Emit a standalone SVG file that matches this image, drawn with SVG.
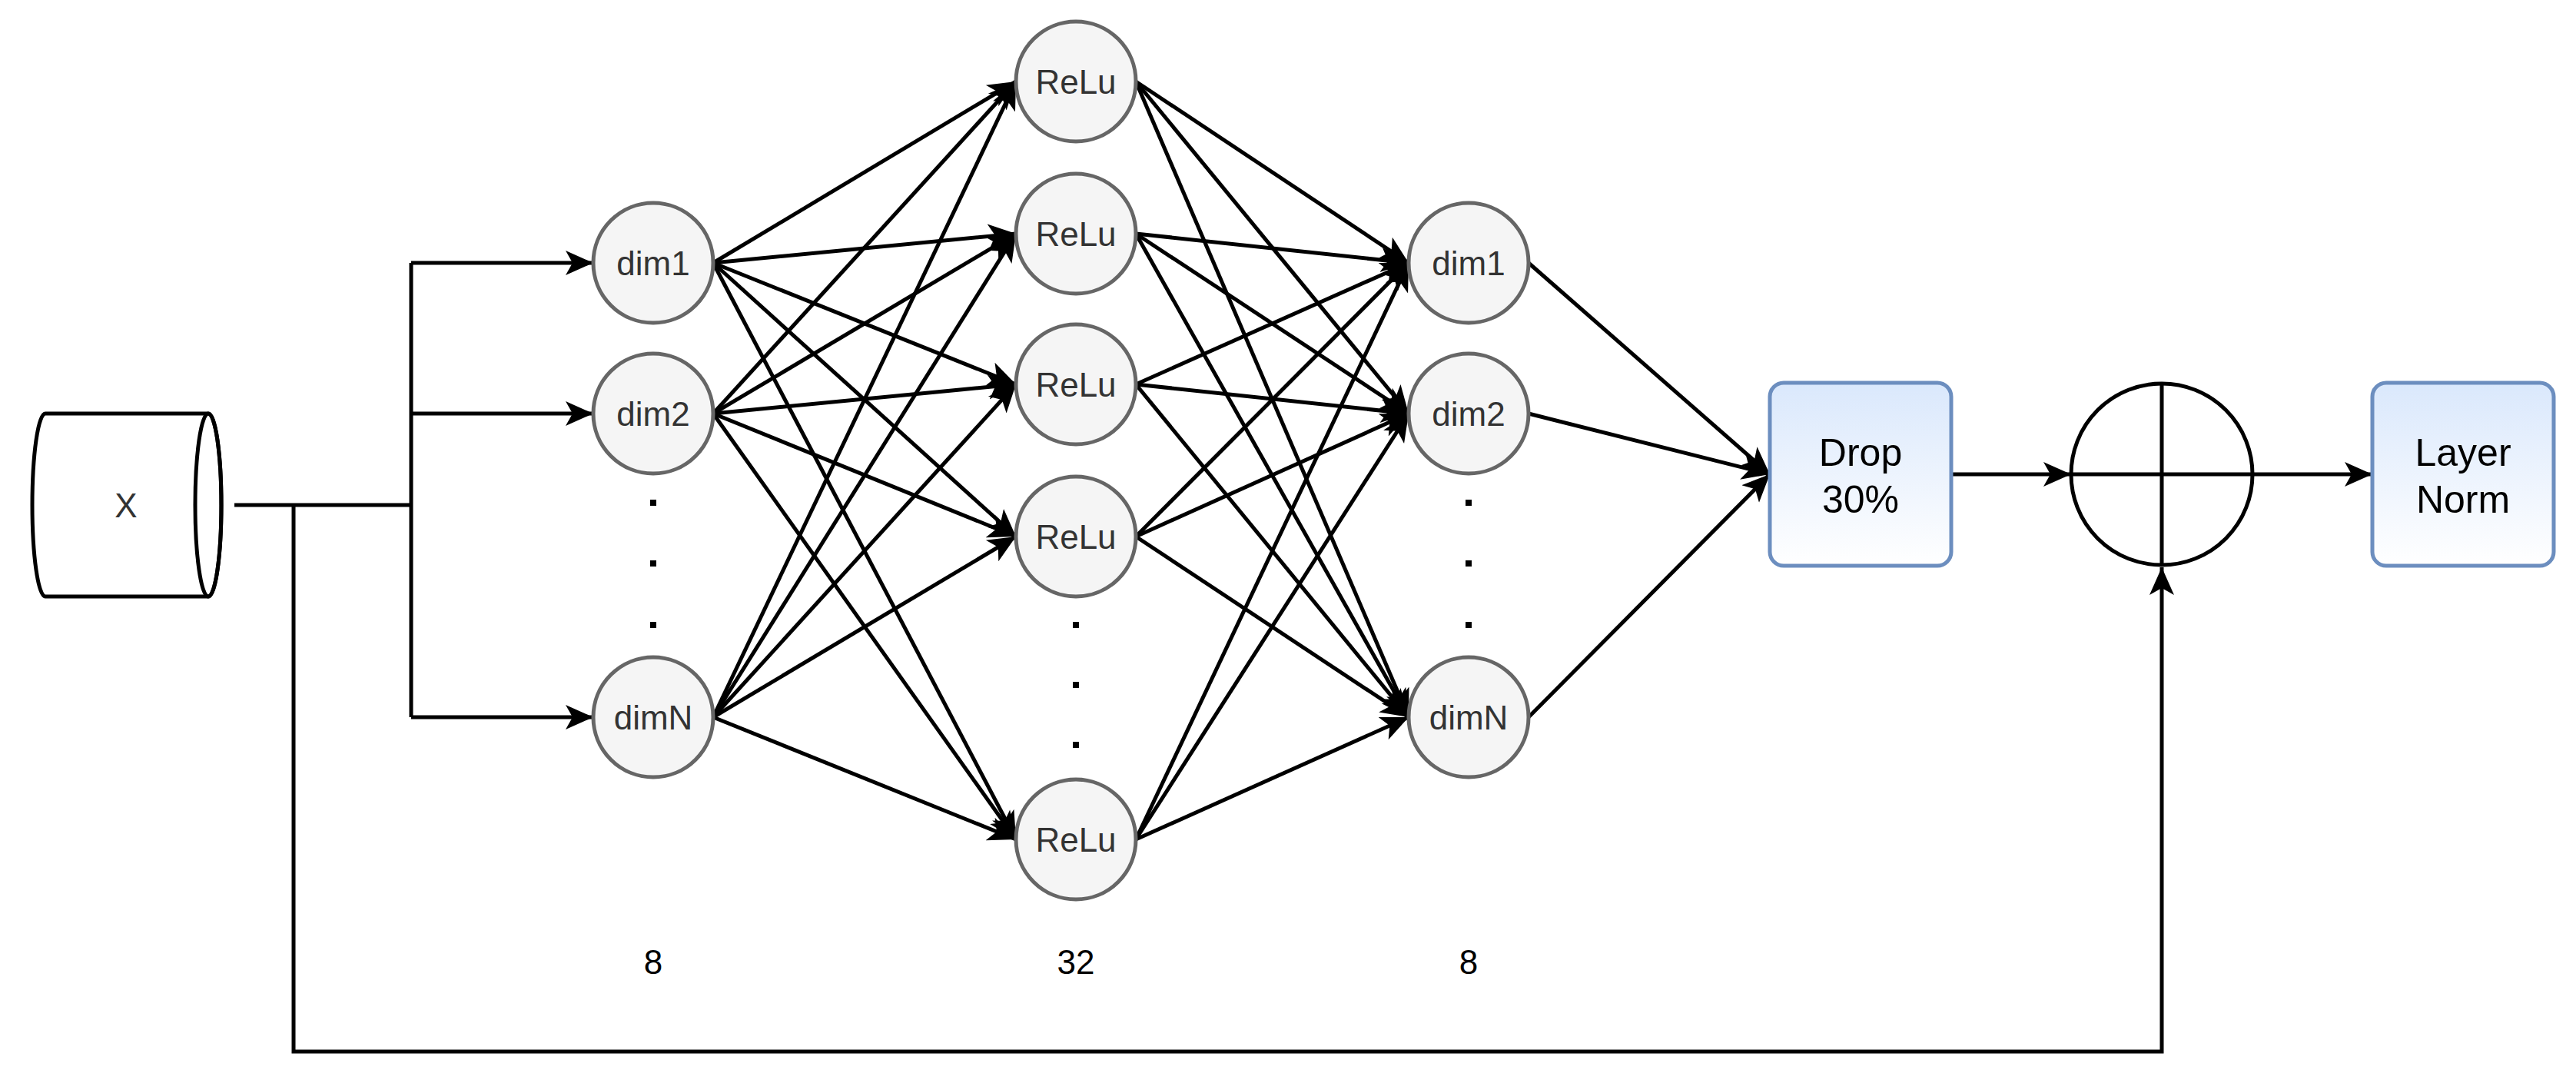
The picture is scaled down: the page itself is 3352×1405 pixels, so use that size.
<svg xmlns="http://www.w3.org/2000/svg" width="3352" height="1405" viewBox="0 0 3352 1405">
<style>
.n{fill:#f5f5f5;stroke:#666;stroke-width:5}
.t{font-family:"Liberation Sans",Arial,sans-serif;font-size:44px;fill:#333;text-anchor:middle;dominant-baseline:central}
.b{font-family:"Liberation Sans",Arial,sans-serif;font-size:50px;fill:#000;text-anchor:middle;dominant-baseline:central}
.e{fill:none;stroke:#000;stroke-width:5}
.a{fill:none;stroke:#000;stroke-width:5;marker-end:url(#ar)}
.box{fill:url(#g);stroke:#6c8ebf;stroke-width:5}
.d{fill:#000}
</style>
<defs>
<marker id="ar" markerUnits="userSpaceOnUse" markerWidth="40" markerHeight="40" viewBox="0 0 40 40" refX="36" refY="20" orient="auto">
<path d="M0,4 L36,20 L0,36 L9,20 Z" fill="#000"/>
</marker>
<linearGradient id="g" x1="0" y1="0" x2="0" y2="1"><stop offset="0" stop-color="#dae8fc"/><stop offset="1" stop-color="#ffffff"/></linearGradient>
</defs>
<rect width="3352" height="1405" fill="#fff"/>
<g id="connectors">
<path class="e" d="M305,657 H535"/>
<path class="e" d="M535,342 V933"/>
<path class="a" d="M535,342 H772"/>
<path class="a" d="M535,538 H772"/>
<path class="a" d="M535,933 H772"/>
<path class="a" d="M382,657 V1368 H2813 V738"/>
<path class="a" d="M928,342 L1322,106"/><path class="a" d="M928,342 L1322,304"/><path class="a" d="M928,342 L1322,500"/><path class="a" d="M928,342 L1322,698"/><path class="a" d="M928,342 L1322,1092"/>
<path class="a" d="M928,538 L1322,106"/><path class="a" d="M928,538 L1322,304"/><path class="a" d="M928,538 L1322,500"/><path class="a" d="M928,538 L1322,698"/><path class="a" d="M928,538 L1322,1092"/>
<path class="a" d="M928,933 L1322,106"/><path class="a" d="M928,933 L1322,304"/><path class="a" d="M928,933 L1322,500"/><path class="a" d="M928,933 L1322,698"/><path class="a" d="M928,933 L1322,1092"/>
<path class="a" d="M1478,106 L1833,342"/><path class="a" d="M1478,106 L1833,538"/><path class="a" d="M1478,106 L1833,933"/>
<path class="a" d="M1478,304 L1833,342"/><path class="a" d="M1478,304 L1833,538"/><path class="a" d="M1478,304 L1833,933"/>
<path class="a" d="M1478,500 L1833,342"/><path class="a" d="M1478,500 L1833,538"/><path class="a" d="M1478,500 L1833,933"/>
<path class="a" d="M1478,698 L1833,342"/><path class="a" d="M1478,698 L1833,538"/><path class="a" d="M1478,698 L1833,933"/>
<path class="a" d="M1478,1092 L1833,342"/><path class="a" d="M1478,1092 L1833,538"/><path class="a" d="M1478,1092 L1833,933"/>
<path class="a" d="M1989,342 L2303,617"/><path class="a" d="M1989,538 L2303,617"/><path class="a" d="M1989,933 L2303,617"/>
<path class="a" d="M2539,617 L2695,617"/>
<path class="a" d="M2932,617 L3087,617"/>
</g>
<g id="X">
<path d="M59,538 H271 A17,119 0 0 1 271,776 H59 A17,119 0 0 1 59,538 Z" fill="#fff" stroke="#000" stroke-width="5"/>
<ellipse cx="271" cy="657" rx="17" ry="119" fill="none" stroke="#000" stroke-width="5"/>
<text class="b" x="164" y="657" style="font-size:44px;fill:#333">X</text>
</g>
<g id="l1_dim1"><circle class="n" cx="850" cy="342" r="78"/><text class="t" x="850" y="342">dim1</text></g>
<g id="l1_dim2"><circle class="n" cx="850" cy="538" r="78"/><text class="t" x="850" y="538">dim2</text></g>
<g id="l1_dimN"><circle class="n" cx="850" cy="933" r="78"/><text class="t" x="850" y="933">dimN</text></g>
<g id="l1_dots"><rect class="d" x="846" y="650" width="8" height="8"/><rect class="d" x="846" y="729" width="8" height="8"/><rect class="d" x="846" y="809" width="8" height="8"/></g>
<g id="r1"><circle class="n" cx="1400" cy="106" r="78"/><text class="t" x="1400" y="106">ReLu</text></g>
<g id="r2"><circle class="n" cx="1400" cy="304" r="78"/><text class="t" x="1400" y="304">ReLu</text></g>
<g id="r3"><circle class="n" cx="1400" cy="500" r="78"/><text class="t" x="1400" y="500">ReLu</text></g>
<g id="r4"><circle class="n" cx="1400" cy="698" r="78"/><text class="t" x="1400" y="698">ReLu</text></g>
<g id="r5"><circle class="n" cx="1400" cy="1092" r="78"/><text class="t" x="1400" y="1092">ReLu</text></g>
<g id="r_dots"><rect class="d" x="1396" y="809" width="8" height="8"/><rect class="d" x="1396" y="887" width="8" height="8"/><rect class="d" x="1396" y="965" width="8" height="8"/></g>
<g id="l2_dim1"><circle class="n" cx="1911" cy="342" r="78"/><text class="t" x="1911" y="342">dim1</text></g>
<g id="l2_dim2"><circle class="n" cx="1911" cy="538" r="78"/><text class="t" x="1911" y="538">dim2</text></g>
<g id="l2_dimN"><circle class="n" cx="1911" cy="933" r="78"/><text class="t" x="1911" y="933">dimN</text></g>
<g id="l2_dots"><rect class="d" x="1907" y="650" width="8" height="8"/><rect class="d" x="1907" y="729" width="8" height="8"/><rect class="d" x="1907" y="809" width="8" height="8"/></g>
<g id="labels"><text class="t" x="850" y="1251" style="fill:#000">8</text><text class="t" x="1400" y="1251" style="fill:#000">32</text><text class="t" x="1911" y="1251" style="fill:#000">8</text></g>
<g id="drop"><rect class="box" x="2303" y="498" width="236" height="238" rx="18"/><text class="b" x="2421" y="589">Drop</text><text class="b" x="2421" y="650">30%</text></g>
<g id="add"><circle cx="2813" cy="617" r="118" fill="none" stroke="#000" stroke-width="5"/><path class="e" d="M2695,617 H2931 M2813,499 V735"/></g>
<g id="layernorm"><rect class="box" x="3087" y="498" width="236" height="238" rx="18"/><text class="b" x="3205" y="589">Layer</text><text class="b" x="3205" y="650">Norm</text></g>
</svg>
